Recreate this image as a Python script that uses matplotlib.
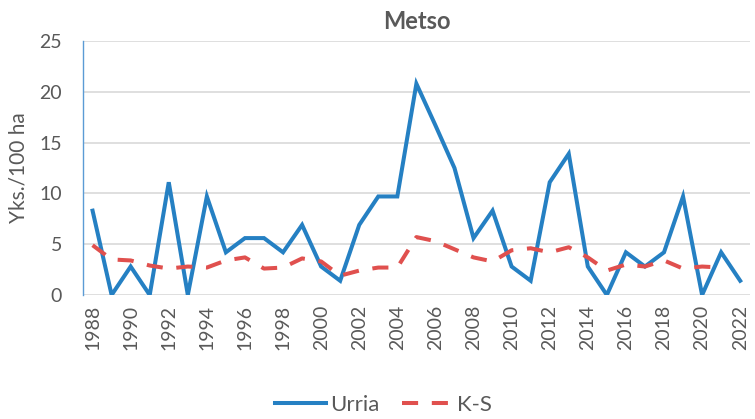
import numpy as np
import matplotlib
matplotlib.use('Agg')
import matplotlib.pyplot as plt

# Data
years = list(range(1988, 2023))
urria = [8.3, 0.0, 2.8, 0.0, 11.1, 0.0, 9.7, 4.2, 5.6, 5.6,
         4.2, 6.9, 2.8, 1.4, 6.9, 9.7, 9.7, 20.8, 16.7, 12.5,
         5.6, 8.3, 2.8, 1.4, 11.1, 13.9, 2.8, 0.0, 4.2, 2.8,
         4.2, 9.7, 0.0, 4.2, 1.4]
ks = [4.9, 3.5, 3.4, 2.9, 2.6, 2.8, 2.7, 3.4, 3.7, 2.6,
      2.7, 3.6, 3.3, 1.9, 2.4, 2.7, 2.7, 5.7, 5.3, 4.5,
      3.7, 3.3, 4.4, 4.6, 4.2, 4.7, 3.7, 2.4, 3.0, 2.8,
      3.4, 2.6, 2.8, 2.7, np.nan]
xticks = list(range(1988, 2023, 2))

text_col = '#595959'
plt.rcParams['font.family'] = ['Lato', 'DejaVu Sans']

fig = plt.figure(figsize=(7.55, 4.19), dpi=100)
ax = fig.add_axes([0.110, 0.296, 0.883, 0.606])

ax.plot(years, urria, color='#2580C3', lw=2.9, label='Urria',
        solid_joinstyle='miter')
ax.plot(years, ks, color='#E0504E', lw=2.9, dashes=(4.0, 3.4),
        label='K-S')

ax.set_xlim(1987.5, 2022.5)
ax.set_ylim(0, 25)
ax.set_yticks(range(0, 26, 5))
ax.set_xticks(xticks)
ax.set_xticklabels([str(y) for y in xticks], rotation=90)
ax.tick_params(axis='both', length=0, labelsize=14, labelcolor=text_col)
ax.tick_params(axis='y', pad=15)
ax.tick_params(axis='x', pad=7)
ax.grid(axis='y', color='#D9D9D9', lw=1.2)
ax.set_axisbelow(True)
for s in ['top', 'right', 'bottom']:
    ax.spines[s].set_visible(False)
ax.spines['left'].set_color('#5B9BD5')
ax.spines['left'].set_linewidth(1)

ax.set_ylabel('Yks./100 ha', fontsize=15, color=text_col)
ax.yaxis.set_label_coords(-0.082, 0.5)
ax.set_title('Metso', fontsize=17, fontweight='bold', color=text_col, pad=8.5)

fig.legend(loc='center', bbox_to_anchor=(0.508, 0.033), ncol=2,
           frameon=False, fontsize=16, labelcolor=text_col,
           handlelength=2.3, columnspacing=1.0, handletextpad=0.2)

fig.savefig('out.png', dpi=100)
